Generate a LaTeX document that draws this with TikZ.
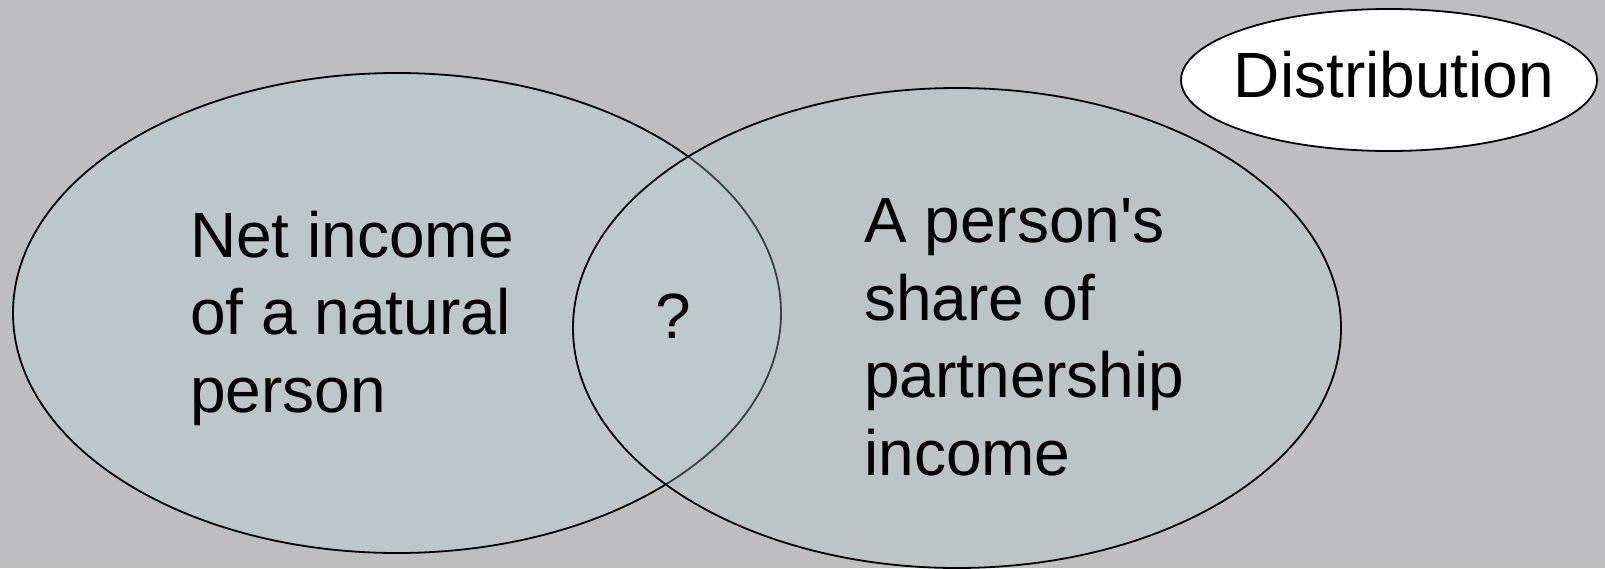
\documentclass[tikz,border=0pt]{standalone}
\usepackage{fontspec}
\newfontfamily\arialf{Liberation Sans}
\usetikzlibrary{shapes.geometric}
\definecolor{bgc}{RGB}{190,190,192}
\definecolor{setc}{RGB}{189,198,200}
\definecolor{setb}{RGB}{187,213,215}
\begin{document}
\begin{tikzpicture}[x=1pt,y=-1pt,
  setshape/.style={ellipse, draw=black, line width=1.8pt, inner sep=0pt,
    minimum width=768pt, minimum height=480pt},
  lbl/.style={inner sep=0pt, font=\arialf\fontsize{64}{77.5}\selectfont, text=black}]
\useasboundingbox (0,0) rectangle (1605,568);
\fill[bgc] (0,0) rectangle (1605,568);
\node[setshape, fill=setc] (L) at (397,313) {};
\node[setshape, fill=setb, fill opacity=0.3] (R) at (957,328) {};
\node[ellipse, draw=black, line width=1.8pt, fill=white, inner sep=0pt,
  minimum width=416pt, minimum height=142pt] (D) at (1389,80) {};
\node[lbl, anchor=base] (Dt) at (1394,97) {Distribution};
\node[lbl, anchor=base west, align=left] (Lt) at (190,412) {Net income\\of a natural\\person};
\node[lbl, anchor=base west, align=left] (Rt) at (864,475) {A person's\\share of\\partnership\\income};
\node[lbl, anchor=base] (Q) at (673,338) {?};
\end{tikzpicture}
\end{document}
